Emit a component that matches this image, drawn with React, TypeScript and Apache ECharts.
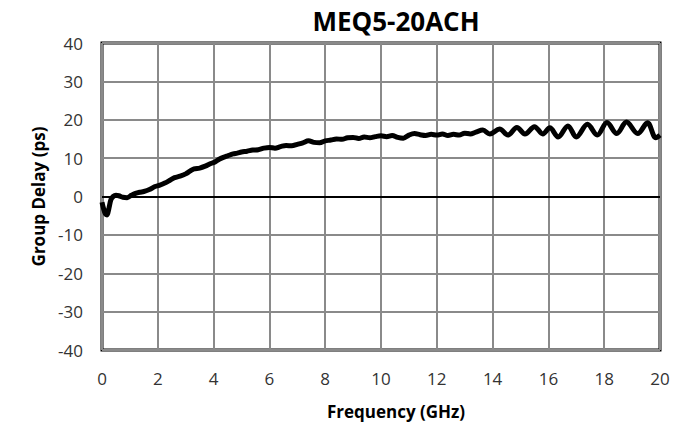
import React, { useEffect, useRef } from "react";
import * as echarts from "echarts";

const chartTitle = "MEQ5-20ACH";
const xTitle = "Frequency (GHz)";
const yTitle = "Group Delay (ps)";

const freqGHz = [
  0.0, 0.05, 0.12, 0.18, 0.25, 0.32, 0.4, 0.5, 0.6, 0.75, 0.9, 1.05, 1.2, 1.35, 1.5, 1.7, 1.9, 2.05,
  2.25, 2.45, 2.6, 2.8, 3.0, 3.15, 3.3, 3.5, 3.7, 3.9, 4.05, 4.2, 4.35, 4.5, 4.7, 4.85, 5.0, 5.2,
  5.4, 5.6, 5.8, 6.0, 6.2, 6.4, 6.6, 6.8, 7.0, 7.2, 7.4, 7.6, 7.8, 8.0, 8.2, 8.4, 8.6, 8.8, 9.0,
  9.2, 9.4, 9.6, 9.8, 10.0, 10.2, 10.4, 10.6, 10.8, 11.0, 11.2, 11.4, 11.6, 11.8, 12.0, 12.2, 12.4,
  12.6, 12.8, 13.0, 13.2, 13.4, 13.65, 13.9, 14.25, 14.55, 14.87, 15.16, 15.5, 15.8, 16.05, 16.35,
  16.7, 17.0, 17.4, 17.75, 18.1, 18.45, 18.8, 19.2, 19.55, 19.85, 20.0,
];

const delayPs = [
  -1.5, -3.0, -4.5, -4.8, -3.0, -0.8, 0.0, 0.3, 0.2, -0.2, -0.3, 0.3, 0.8, 1.1, 1.3, 1.8, 2.6, 2.9,
  3.5, 4.3, 4.9, 5.3, 5.9, 6.6, 7.2, 7.4, 7.9, 8.6, 9.0, 9.7, 10.2, 10.6, 11.1, 11.3, 11.6, 11.8,
  12.1, 12.2, 12.6, 12.8, 12.6, 13.0, 13.3, 13.2, 13.6, 14.0, 14.5, 14.1, 14.0, 14.5, 14.7, 15.0, 14.9,
  15.3, 15.4, 15.1, 15.5, 15.3, 15.6, 15.8, 15.6, 15.9, 15.4, 15.2, 16.0, 16.4, 16.1, 15.9, 16.2,
  16.0, 16.3, 15.9, 16.2, 16.0, 16.5, 16.3, 16.8, 17.3, 16.3, 17.6, 16.0, 18.0, 16.3, 18.2, 16.3,
  17.9, 15.5, 18.4, 15.5, 18.8, 16.0, 19.3, 16.4, 19.4, 16.4, 19.2, 15.3, 16.0,
];

const xTicks = { min: 0, max: 20, interval: 2 };
const yTicks = { min: -40, max: 40, interval: 10 };

export default function App() {
  const ref = useRef<HTMLDivElement>(null);
  useEffect(() => {
    if (!ref.current) return;
    const chart = echarts.init(ref.current, null, { renderer: "svg" });
    const font = "'Open Sans', sans-serif";
    chart.setOption({
      animation: false,
      backgroundColor: "#fff",
      title: {
        text: chartTitle,
        left: 391,
        top: 3,
        textAlign: "center",
        textStyle: { fontFamily: font, fontWeight: "bold", fontSize: 26, color: "#000" },
      },
      grid: {
        left: 102,
        right: 13,
        top: 43,
        bottom: 77,
        show: true,
        borderColor: "#000",
        borderWidth: 3,
        backgroundColor: "transparent",
      },
      xAxis: {
        type: "value",
        min: xTicks.min,
        max: xTicks.max,
        interval: xTicks.interval,
        name: xTitle,
        nameLocation: "middle",
        nameGap: 53,
        nameTextStyle: {
          fontFamily: font,
          fontWeight: "bold",
          fontSize: 17,
          color: "#000",
          padding: [0, 0, 0, 30],
        },
        axisLine: { show: false },
        axisTick: { show: false },
        axisLabel: { margin: 20, fontFamily: font, fontSize: 17, color: "#333" },
        splitLine: { show: true, lineStyle: { color: "#8a8a8a", width: 2 } },
      },
      yAxis: {
        type: "value",
        min: yTicks.min,
        max: yTicks.max,
        interval: yTicks.interval,
        name: yTitle,
        nameLocation: "middle",
        nameGap: 52,
        nameTextStyle: { fontFamily: font, fontWeight: "bold", fontSize: 17, color: "#000" },
        axisLine: { show: false },
        axisTick: { show: false },
        axisLabel: { margin: 19, fontFamily: font, fontSize: 17, color: "#333" },
        splitLine: { show: true, lineStyle: { color: "#8a8a8a", width: 2 } },
      },
      series: [
        {
          type: "line",
          data: freqGHz.map((f, i) => [f, delayPs[i]]),
          showSymbol: false,
          smooth: 0.35,
          lineStyle: { color: "#000", width: 5 },
          markLine: {
            silent: true,
            symbol: "none",
            label: { show: false },
            lineStyle: { color: "#000", width: 2, type: "solid" },
            data: [{ yAxis: 0 }],
          },
          z: 3,
        },
      ],
    });
    return () => chart.dispose();
  }, []);
  return (
    <div
      ref={ref}
      style={{ position: "fixed", left: 0, top: 0, width: 673, height: 427 }}
    />
  );
}
